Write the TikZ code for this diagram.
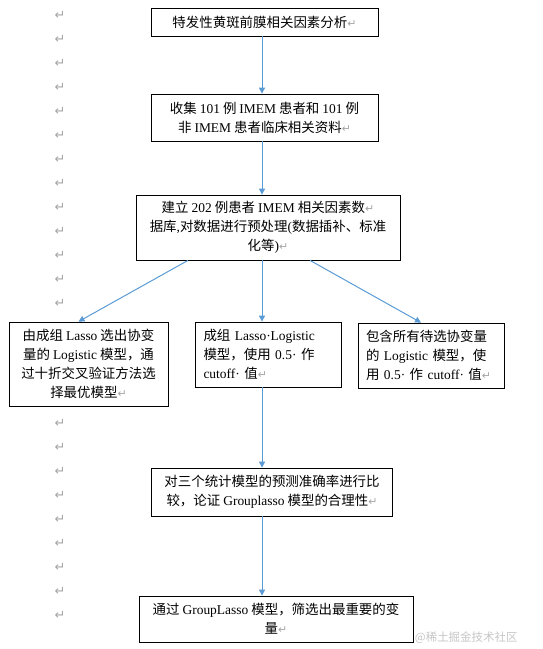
\documentclass[tikz,border=0pt]{standalone}
\usepackage{fontspec}
\setmainfont{Noto Sans CJK SC}
\newfontfamily\enfont{Liberation Serif}
\newfontfamily\symfont{DejaVu Sans}
\usetikzlibrary{arrows.meta}
\definecolor{lineblue}{HTML}{5B9BD5}
\newcommand{\en}[1]{{\enfont #1}}
\newcommand{\parmark}{{\symfont\color{gray!70}\fontsize{11}{11}\selectfont ↵}}

\begin{document}
\begin{tikzpicture}[x=1bp, y=-1bp,
    box/.style={draw, line width=0.8bp, fill=white, inner sep=0pt, align=center, font=\fontsize{13.5}{19}\selectfont},
    leftbox/.style={box, align=left, text width=130bp},
    arrow/.style={-{Triangle[width=6bp,length=6bp]}, line width=1bp, lineblue},
    pmark/.style={font=\symfont\fontsize{13}{13}\selectfont, text=gray!70, inner sep=0pt}
  ]
  \useasboundingbox (0,0) rectangle (543,649);
  % Paragraph marks down the left margin (those behind the left box left out)
  \foreach \i in {0,...,12,17,18,...,25}
    \node[pmark] (pm\i) at (60, 15+24*\i) {↵};

  % Steps
  \node[box, minimum width=227bp, minimum height=28bp] (topic) at (264.5,22) {特发性黄斑前膜相关因素分析\parmark};
  \node[box, minimum width=227bp, minimum height=47bp] (collect) at (264.5,117.5) {收集 \en{101} 例 \en{IMEM} 患者和 \en{101} 例\\非 \en{IMEM} 患者临床相关资料\parmark};
  \node[box, minimum width=264bp, minimum height=65bp] (build) at (268,227.5) {建立 \en{202} 例患者 \en{IMEM} 相关因素数\parmark\\据库\en{,}对数据进行预处理\en{(}数据插补、标准\\化等\en{)}\parmark};

  % Three models
  \node[box, minimum width=159bp, minimum height=84bp] (grplogit) at (88.5,364) {由成组 \en{Lasso} 选出协变\\量的 \en{Logistic} 模型，通\\过十折交叉验证方法选\\择最优模型\parmark};
  \node[leftbox, minimum width=146bp, minimum height=65bp] (lassologit) at (268.5,354.5) {成组 \en{Lasso·Logistic}\\模型，使用 \en{0.5·} 作\\\en{cutoff·} 值\parmark};
  \node[leftbox, minimum width=146bp, minimum height=65bp] (fulllogit) at (431,355.5) {包含所有待选协变量\\的 \en{Logistic} 模型，使\\用 \en{0.5·} 作 \en{cutoff·} 值\parmark};

  % Comparison and result
  \node[box, minimum width=241bp, minimum height=48bp] (compare) at (272,492) {对三个统计模型的预测准确率进行比\\较，论证 \en{Grouplasso} 模型的合理性\parmark};
  \node[box, minimum width=274bp, minimum height=46bp] (select) at (276,619) {通过 \en{GroupLasso} 模型，筛选出最重要的变\\量\parmark};

  % Arrows
  \coordinate (axis) at (262,0);
  \draw[arrow] (topic.south -| axis) -- (collect.north -| axis);
  \draw[arrow] (collect.south -| axis) -- (build.north -| axis);
  \draw[arrow] ([xshift=-80bp]build.south) -- ([xshift=-10bp]grplogit.north);
  \draw[arrow] (build.south -| axis) -- (lassologit.north -| axis);
  \draw[arrow] ([xshift=42bp]build.south) -- ([xshift=-10bp]fulllogit.north);
  \draw[arrow] (lassologit.south -| axis) -- (compare.north -| axis);
  \draw[arrow] (compare.south -| axis) -- (select.north -| axis);

  \node[font=\fontsize{11.5}{12}\selectfont, text=gray!45, anchor=east] (mark) at (521,638) {@稀土掘金技术社区};
\end{tikzpicture}
\end{document}
